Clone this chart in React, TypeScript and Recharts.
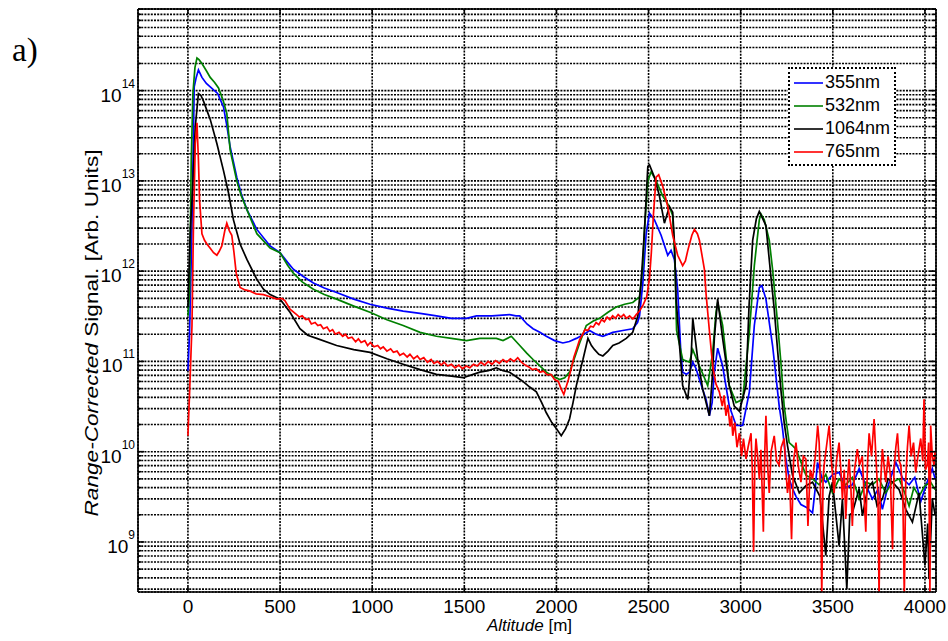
import { LineChart, Line, XAxis, YAxis, CartesianGrid, ReferenceLine, Legend } from "recharts";

// plot frame in page pixels
const PLOT_LEFT = 138;
const PLOT_RIGHT = 936;
const PLOT_TOP = 9;
const PLOT_BOTTOM = 592;

const X_MIN = -271;
const X_MAX = 4060;
const Y_MIN = 2.79e8;
const Y_MAX = 8.02e14;

const X_TICKS = [0, 500, 1000, 1500, 2000, 2500, 3000, 3500, 4000];
const DECADES = [8, 9, 10, 11, 12, 13, 14];
const MANTISSAS = [1, 2, 3, 4, 5, 6, 7, 8, 9];
const Y_TICKS = DECADES.flatMap((e) => MANTISSAS.map((m) => m * 10 ** e)).filter(
  (v) => v >= Y_MIN && v <= Y_MAX
);

const FONT = '"Liberation Sans", Arial, sans-serif';

// [altitude m, range-corrected signal]
const S355: [number, number][] = [
  [0, 7.9e10], [9, 2.1e11], [22, 3.2e12], [34, 1.1e14], [45, 1.4e14], [57, 1.7e14], [76, 1.4e14],
  [100, 1.2e14], [121, 1.1e14], [161, 9.3e13], [193, 6.6e13], [212, 4.0e13], [229, 2.4e13], [265, 1.1e13],
  [290, 7.1e12], [320, 4.8e12], [374, 2.9e12], [446, 1.9e12], [500, 1.6e12], [540, 1.26e12], [572, 1.05e12],
  [620, 8.9e11], [681, 7.4e11], [740, 6.5e11], [807, 5.8e11], [900, 4.9e11], [988, 4.3e11], [1080, 3.9e11],
  [1168, 3.6e11], [1260, 3.4e11], [1349, 3.2e11], [1430, 3.0e11], [1512, 3.0e11], [1566, 3.2e11],
  [1650, 3.2e11], [1746, 3.3e11], [1780, 3.2e11], [1801, 3.2e11], [1840, 2.6e11], [1873, 2.3e11],
  [1910, 2.1e11], [1945, 1.9e11], [1990, 1.7e11], [2035, 1.6e11], [2070, 1.66e11], [2108, 1.8e11],
  [2150, 2.0e11], [2180, 2.2e11], [2215, 2.0e11], [2252, 1.9e11], [2306, 2.1e11], [2360, 2.2e11],
  [2414, 2.3e11], [2440, 2.7e11], [2451, 3.2e11], [2469, 7.4e11], [2487, 2.6e12], [2505, 4.4e12],
  [2532, 3.7e12], [2568, 2.5e12], [2604, 1.5e12], [2622, 1.7e12], [2640, 1.35e12], [2658, 6.3e11],
  [2667, 2.7e11], [2675, 1.26e11], [2685, 7.6e10], [2705, 7.2e10], [2722, 7.6e10], [2740, 9.8e10],
  [2758, 8.3e10], [2776, 6.3e10], [2812, 3.8e10], [2830, 2.5e10], [2845, 3.5e10], [2857, 7.6e10],
  [2875, 1.4e11], [2902, 8.9e10], [2938, 3.2e10], [2975, 1.95e10], [3011, 1.95e10], [3047, 4.6e10],
  [3074, 2.5e11], [3101, 6.6e11], [3115, 6.9e11], [3137, 4.9e11], [3155, 2.7e11], [3173, 1.5e11],
  [3191, 6.9e10], [3209, 3.2e10], [3227, 1.8e10], [3245, 8.3e9], [3263, 5.0e9], [3281, 3.9e9],
  [3300, 3.2e9], [3327, 2.6e9], [3360, 2.4e9], [3390, 2.1e9], [3405, 4.0e9], [3417, 7.6e9], [3440, 5.2e9],
  [3462, 4.6e9], [3500, 5.6e9], [3534, 5.9e9], [3570, 4.0e9], [3606, 4.3e9], [3643, 6.5e9], [3680, 4.2e9],
  [3715, 3.0e9], [3745, 3.8e9], [3769, 2.3e9], [3800, 4.2e9], [3842, 7.6e9], [3880, 5.0e9], [3914, 4.3e9],
  [3945, 5.2e9], [3977, 2.8e9], [4010, 4.5e9], [4040, 6.5e9], [4055, 5.0e9],
];

const S532: [number, number][] = [
  [0, 3.2e11], [9, 5.8e11], [18, 1.7e13], [27, 9.3e13], [38, 1.8e14], [49, 2.3e14], [60, 2.2e14],
  [76, 2.0e14], [100, 1.66e14], [121, 1.4e14], [145, 1.23e14], [166, 1.07e14], [190, 7.9e13],
  [211, 5.6e13], [229, 2.2e13], [265, 1.0e13], [290, 6.8e12], [320, 4.8e12], [374, 2.6e12], [446, 1.8e12],
  [500, 1.6e12], [540, 1.17e12], [572, 9.5e11], [620, 7.6e11], [681, 6.3e11], [740, 5.5e11], [807, 4.9e11],
  [900, 4.1e11], [988, 3.5e11], [1080, 2.9e11], [1168, 2.5e11], [1260, 2.1e11], [1349, 1.9e11],
  [1430, 1.8e11], [1512, 1.7e11], [1584, 1.8e11], [1674, 1.8e11], [1710, 1.7e11], [1755, 1.9e11],
  [1801, 1.5e11], [1840, 1.23e11], [1873, 1.05e11], [1910, 8.9e10], [1945, 7.6e10], [1980, 6.9e10],
  [2017, 6.3e10], [2045, 6.6e10], [2071, 7.6e10], [2100, 1.12e11], [2126, 1.6e11], [2162, 2.5e11],
  [2200, 2.8e11], [2234, 3.0e11], [2280, 3.5e11], [2324, 4.0e11], [2370, 4.3e11], [2414, 4.5e11],
  [2451, 5.2e11], [2469, 1.15e12], [2478, 2.9e12], [2496, 1.0e13], [2514, 1.26e13], [2541, 1.0e13],
  [2577, 6.8e12], [2613, 5.2e12], [2631, 4.1e12], [2643, 1.26e12], [2652, 2.2e11], [2685, 1.05e11],
  [2722, 9.8e10], [2740, 1.35e11], [2776, 8.9e10], [2821, 5.4e10], [2848, 1.26e11], [2866, 3.5e11],
  [2875, 4.5e11], [2902, 2.5e11], [2938, 5.4e10], [2975, 3.5e10], [3011, 3.8e10], [3047, 2.1e11],
  [3074, 1.15e12], [3101, 3.7e12], [3110, 4.3e12], [3128, 3.7e12], [3155, 2.2e12], [3173, 1.05e12],
  [3200, 2.7e11], [3218, 9.8e10], [3236, 3.2e10], [3263, 1.26e10], [3281, 1.17e10], [3300, 1.07e10],
  [3354, 5.5e9], [3390, 5.0e9], [3426, 4.3e9], [3462, 5.6e9], [3498, 3.5e9], [3534, 5.0e9], [3570, 4.3e9],
  [3606, 5.2e9], [3643, 3.0e9], [3680, 4.6e9], [3715, 4.3e9], [3750, 5.0e9], [3787, 3.5e9], [3824, 4.6e9],
  [3860, 5.0e9], [3890, 3.5e9], [3914, 2.5e9], [3940, 4.0e9], [3968, 3.2e9], [4000, 4.2e9], [4031, 4.6e9],
  [4055, 3.8e9],
];

const S1064: [number, number][] = [
  [0, 4.0e11], [12, 2.6e12], [25, 7.9e12], [40, 4.0e13], [57, 9.3e13], [70, 8.9e13], [85, 7.6e13],
  [121, 4.8e13], [157, 2.6e13], [193, 1.3e13], [220, 7.4e12], [247, 3.7e12], [283, 2.0e12], [320, 1.35e12],
  [374, 8.1e11], [410, 6.3e11], [446, 5.5e11], [500, 4.9e11], [554, 3.5e11], [608, 2.3e11], [650, 1.95e11],
  [699, 1.8e11], [807, 1.5e11], [900, 1.35e11], [988, 1.26e11], [1080, 1.07e11], [1168, 9.3e10],
  [1260, 8.1e10], [1349, 7.2e10], [1420, 6.9e10], [1493, 6.6e10], [1540, 7.1e10], [1584, 7.6e10],
  [1630, 7.9e10], [1674, 8.5e10], [1710, 7.9e10], [1746, 7.6e10], [1780, 6.8e10], [1818, 6.0e10],
  [1855, 5.2e10], [1891, 4.6e10], [1920, 3.5e10], [1945, 2.7e10], [1975, 2.1e10], [2000, 1.8e10],
  [2026, 1.5e10], [2050, 1.8e10], [2071, 2.3e10], [2090, 3.5e10], [2108, 5.4e10], [2126, 7.6e10],
  [2144, 1.05e11], [2171, 1.8e11], [2190, 1.5e11], [2207, 1.35e11], [2230, 1.2e11], [2252, 1.15e11],
  [2280, 1.3e11], [2306, 1.5e11], [2340, 1.6e11], [2379, 1.8e11], [2414, 2.1e11], [2442, 3.2e11],
  [2460, 7.8e11], [2478, 2.9e12], [2496, 1.45e13], [2505, 1.5e13], [2532, 1.1e13], [2559, 6.8e12],
  [2586, 3.4e12], [2613, 5.2e12], [2631, 4.5e12], [2641, 2.0e12], [2649, 5.2e11], [2665, 1.8e11],
  [2685, 5.4e10], [2713, 3.8e10], [2730, 1.0e11], [2740, 3.0e11], [2767, 1.05e11], [2794, 4.9e10],
  [2830, 2.5e10], [2845, 6.3e10], [2857, 1.8e11], [2875, 4.9e11], [2902, 1.8e11], [2938, 5.4e10],
  [2965, 3.2e10], [2993, 2.8e10], [3029, 5.4e10], [3045, 4.0e11], [3065, 2.2e12], [3085, 3.8e12],
  [3101, 4.6e12], [3137, 3.2e12], [3164, 8.7e11], [3182, 3.8e11], [3200, 1.35e11], [3218, 4.9e10],
  [3236, 2.1e10], [3254, 1.17e10], [3281, 5.5e9], [3318, 3.5e9], [3354, 4.2e9], [3390, 4.6e9],
  [3430, 3.2e9], [3462, 7.1e8], [3480, 3.2e9], [3498, 4.6e9], [3534, 9.1e8], [3552, 3.0e9], [3576, 3.0e8],
  [3592, 2.0e9], [3606, 2.1e9], [3643, 3.9e9], [3661, 1.95e9], [3690, 4.0e9], [3715, 4.6e9], [3740, 2.5e9],
  [3769, 3.0e9], [3800, 5.0e9], [3824, 4.6e9], [3860, 3.8e9], [3896, 2.3e9], [3932, 1.66e9], [3968, 3.5e9],
  [4000, 5.5e8], [4015, 1.6e9], [4022, 3.9e8], [4040, 3.0e9], [4055, 2.0e9],
];

const S765: [number, number][] = [
  [0, 1.5e10], [8, 4.0e10], [22, 2.5e11], [30, 3.2e12], [40, 2.6e13], [49, 4.4e13], [57, 1.7e13],
  [63, 6.2e12], [76, 2.6e12], [90, 2.2e12], [103, 2.0e12], [120, 1.8e12], [139, 1.6e12], [157, 1.5e12],
  [170, 1.66e12], [184, 1.9e12], [200, 2.8e12], [211, 3.4e12], [225, 2.8e12], [238, 2.5e12], [250, 1.6e12],
  [262, 9.5e11], [283, 6.6e11], [310, 6.2e11], [338, 6.0e11], [370, 5.6e11], [410, 5.5e11], [445, 5.2e11],
  [482, 4.9e11], [510, 5.0e11], [527, 4.7e11], [554, 3.8e11], [590, 3.3e11], [605, 3.1e11], [620, 3.2e11],
  [640, 2.9e11], [655, 2.95e11], [670, 2.6e11], [690, 2.7e11], [705, 2.5e11], [720, 2.55e11], [735, 2.3e11],
  [755, 2.4e11], [770, 2.15e11], [785, 2.25e11], [800, 2.0e11], [820, 2.1e11], [840, 1.9e11], [855, 2.0e11],
  [870, 1.8e11], [890, 1.85e11], [910, 1.65e11], [925, 1.78e11], [940, 1.62e11], [960, 1.7e11],
  [975, 1.5e11], [990, 1.62e11], [1010, 1.45e11], [1030, 1.5e11], [1045, 1.38e11], [1060, 1.45e11],
  [1080, 1.3e11], [1100, 1.38e11], [1115, 1.26e11], [1135, 1.3e11], [1150, 1.17e11], [1170, 1.23e11],
  [1190, 1.12e11], [1205, 1.2e11], [1225, 1.07e11], [1245, 1.15e11], [1260, 1.05e11], [1280, 1.1e11],
  [1300, 9.8e10], [1320, 1.05e11], [1335, 9.5e10], [1355, 1.0e11], [1375, 9.1e10], [1390, 9.8e10],
  [1410, 8.9e10], [1430, 9.3e10], [1450, 8.5e10], [1470, 9.1e10], [1490, 8.3e10], [1510, 8.9e10],
  [1530, 8.5e10], [1550, 9.3e10], [1570, 8.9e10], [1590, 9.8e10], [1610, 9.1e10], [1630, 1.0e11],
  [1650, 9.3e10], [1670, 1.02e11], [1690, 9.5e10], [1710, 1.05e11], [1730, 9.8e10], [1750, 1.07e11],
  [1770, 1.0e11], [1790, 1.1e11], [1810, 9.8e10], [1830, 9.1e10], [1850, 8.7e10], [1870, 8.1e10],
  [1890, 8.3e10], [1910, 7.6e10], [1930, 7.8e10], [1950, 7.1e10], [1970, 7.2e10], [1990, 6.3e10],
  [2010, 6.0e10], [2025, 5.0e10], [2040, 4.3e10], [2050, 5.0e10], [2065, 6.3e10], [2080, 8.3e10],
  [2095, 1.12e11], [2110, 1.38e11], [2126, 1.74e11], [2140, 1.95e11], [2155, 2.25e11], [2170, 2.2e11],
  [2185, 2.45e11], [2200, 2.4e11], [2215, 2.7e11], [2230, 2.55e11], [2245, 2.9e11], [2260, 2.75e11],
  [2275, 3.1e11], [2290, 2.9e11], [2305, 3.2e11], [2320, 3.0e11], [2335, 3.3e11], [2350, 3.1e11],
  [2365, 3.3e11], [2380, 3.0e11], [2397, 3.2e11], [2415, 2.95e11], [2433, 3.3e11], [2450, 3.6e11],
  [2470, 4.2e11], [2490, 5.2e11], [2505, 8.3e11], [2515, 1.6e12], [2527, 4.4e12], [2541, 1.1e13],
  [2555, 1.17e13], [2577, 8.7e12], [2604, 5.2e12], [2631, 2.5e12], [2658, 1.5e12], [2685, 1.15e12],
  [2700, 1.3e12], [2713, 1.7e12], [2735, 2.5e12], [2749, 2.9e12], [2765, 2.6e12], [2776, 2.2e12],
  [2803, 1.05e12], [2812, 5.6e11], [2830, 2.2e11], [2848, 8.9e10], [2866, 5.6e10], [2884, 4.6e10],
  [2900, 3.2e10], [2910, 4.2e10], [2920, 2.5e10], [2930, 3.3e10], [2942, 1.9e10], [2950, 2.5e10],
  [2957, 1.5e10], [2968, 2.1e10], [2980, 1.12e10], [2993, 1.6e10], [3005, 8.9e9], [3015, 1.4e10],
  [3029, 8.3e9], [3040, 1.12e10], [3056, 1.6e10], [3063, 6.3e9], [3070, 7.8e8], [3077, 7.9e9],
  [3083, 1.4e10], [3092, 8.9e9], [3101, 5.0e9], [3110, 1.05e10], [3123, 1.3e9], [3130, 8.9e9],
  [3137, 2.5e10], [3146, 7.1e9], [3155, 3.5e9], [3165, 1.0e10], [3182, 1.5e10], [3195, 7.9e9],
  [3209, 7.1e9], [3220, 1.12e10], [3236, 1.4e10], [3245, 6.3e9], [3254, 3.5e9], [3265, 5.6e9],
  [3276, 1.07e9], [3287, 7.9e9], [3300, 1.26e10], [3312, 7.1e9], [3327, 4.6e9], [3340, 8.9e9],
  [3354, 8.3e9], [3365, 1.5e9], [3377, 6.3e9], [3390, 5.0e9], [3405, 8.9e9], [3418, 1.95e10],
  [3426, 1.26e10], [3433, 4.0e9], [3440, 2.5e8], [3447, 5.0e9], [3453, 7.1e9], [3465, 1.12e10],
  [3480, 1.95e10], [3492, 7.9e9], [3507, 3.5e9], [3520, 7.9e9], [3534, 1.26e10], [3545, 5.6e9],
  [3552, 3.0e9], [3562, 6.3e9], [3570, 1.8e9], [3580, 5.0e9], [3588, 8.3e9], [3598, 4.0e9], [3606, 1.5e9],
  [3618, 6.3e9], [3633, 1.07e10], [3645, 7.1e9], [3660, 8.9e9], [3670, 3.2e9], [3679, 1.3e9], [3688, 7.1e9],
  [3697, 1.6e10], [3710, 8.9e9], [3724, 2.3e10], [3735, 7.9e9], [3745, 3.2e9], [3751, 2.5e8], [3758, 4.0e9],
  [3769, 1.07e10], [3778, 7.1e9], [3787, 4.6e9], [3800, 8.9e9], [3812, 5.6e9], [3824, 8.3e8], [3832, 6.3e9],
  [3842, 1.12e10], [3851, 1.6e10], [3860, 7.9e9], [3869, 7.1e9], [3880, 3.2e9], [3888, 2.5e8], [3896, 5.0e9],
  [3905, 1.12e10], [3914, 1.95e10], [3925, 8.9e9], [3938, 1.26e10], [3950, 5.9e9], [3962, 8.9e9],
  [3977, 1.4e10], [3988, 7.9e9], [3995, 3.8e10], [4003, 6.3e9], [4013, 7.1e9], [4020, 1.26e10],
  [4027, 2.5e8], [4031, 1.95e10], [4040, 8.9e9], [4049, 7.1e9], [4055, 1.0e10],
];

const SERIES = [
  { name: "355nm", color: "#0000ff", points: S355 },
  { name: "532nm", color: "#008000", points: S532 },
  { name: "1064nm", color: "#000000", points: S1064 },
  { name: "765nm", color: "#ff0000", points: S765 },
];

function YTick(props: any) {
  const { y, payload } = props;
  const lg = Math.log10(payload.value);
  const major = Math.abs(lg - Math.round(lg)) < 1e-6;
  const len = major ? 6 : 3;
  return (
    <g>
      <line x1={PLOT_LEFT} x2={PLOT_LEFT + len} y1={y} y2={y} stroke="#000" strokeWidth={1.6} />
      <line x1={PLOT_RIGHT - len} x2={PLOT_RIGHT} y1={y} y2={y} stroke="#000" strokeWidth={1.6} />
      {major && (
        <text x={135} y={y + 11} textAnchor="end" fontSize={19} fontFamily={FONT} fill="#000">
          10
          <tspan dy={-14} fontSize={12}>
            {Math.round(lg)}
          </tspan>
        </text>
      )}
    </g>
  );
}

function XTick(props: any) {
  const { x, payload } = props;
  return (
    <g>
      <line x1={x} x2={x} y1={PLOT_BOTTOM} y2={PLOT_BOTTOM - 5} stroke="#000" strokeWidth={1.6} />
      <line x1={x} x2={x} y1={PLOT_TOP} y2={PLOT_TOP + 5} stroke="#000" strokeWidth={1.6} />
      <text x={x} y={613} textAnchor="middle" fontSize={19} fontFamily={FONT} fill="#000">
        {payload.value}
      </text>
    </g>
  );
}

function LegendBox() {
  return (
    <div
      style={{
        width: 108,
        height: 99,
        boxSizing: "border-box",
        border: "2px dotted #000",
        background: "#fff",
        paddingTop: 2,
        fontFamily: FONT,
        fontSize: 18,
      }}
    >
      {SERIES.map((s) => (
        <div key={s.name} style={{ display: "flex", alignItems: "center", height: 23, lineHeight: "23px" }}>
          <svg width={35} height={23} style={{ flex: "none" }}>
            <line x1={4} x2={33} y1={12} y2={12} stroke={s.color} strokeWidth={1.6} />
          </svg>
          <span style={{ color: "#000" }}>{s.name}</span>
        </div>
      ))}
    </div>
  );
}

export default function App() {
  return (
    <div style={{ position: "absolute", left: 0, top: 0, width: 948, height: 641, background: "#fff" }}>
      <LineChart width={948} height={641} margin={{ top: PLOT_TOP, right: 948 - PLOT_RIGHT, bottom: 0, left: 0 }}>
        <CartesianGrid stroke="#000" strokeWidth={1.6} strokeDasharray="2 1.2" />
        <XAxis
          type="number"
          dataKey="alt"
          domain={[X_MIN, X_MAX]}
          ticks={X_TICKS}
          height={641 - PLOT_BOTTOM}
          tick={<XTick />}
          tickLine={false}
          axisLine={{ stroke: "#000", strokeWidth: 1.6 }}
          allowDataOverflow
        />
        <YAxis
          type="number"
          dataKey="v"
          scale="log"
          domain={[Y_MIN, Y_MAX]}
          ticks={Y_TICKS}
          width={PLOT_LEFT}
          tick={<YTick />}
          tickLine={false}
          axisLine={{ stroke: "#000", strokeWidth: 1.6 }}
          interval={0}
          allowDataOverflow
        />
        <ReferenceLine x={X_MAX} stroke="#000" strokeWidth={1.6} />
        <ReferenceLine y={Y_MAX} stroke="#000" strokeWidth={1.6} />
        {SERIES.map((s) => (
          <Line
            key={s.name}
            name={s.name}
            data={s.points.map(([alt, v]) => ({ alt, v }))}
            dataKey="v"
            type="linear"
            stroke={s.color}
            strokeWidth={1.7}
            dot={false}
            activeDot={false}
            isAnimationActive={false}
          />
        ))}
        <Legend
          layout="vertical"
          align="center"
          verticalAlign="middle"
          wrapperStyle={{ position: "absolute", left: 788, top: 67, width: 108, height: 99 }}
          content={() => <LegendBox />}
        />
      </LineChart>
      <svg
        width={948}
        height={641}
        style={{ position: "absolute", left: 0, top: 0, pointerEvents: "none" }}
      >
        <text x={12} y={61} fontSize={33} fontFamily='"Liberation Serif", "Times New Roman", serif' fill="#000">
          a)
        </text>
        <text
          x={98}
          y={333}
          transform="rotate(-90 98 333)"
          textAnchor="middle"
          fontSize={18}
          fontFamily={FONT}
          fill="#000"
          textLength={367}
          lengthAdjust="spacingAndGlyphs"
        >
          <tspan fontStyle="italic">Range-Corrected</tspan> Signal. [Arb. Units]
        </text>
        <text x={487} y={631} fontSize={17} fontFamily={FONT} fill="#000">
          <tspan fontStyle="italic">Altitude</tspan> [m]
        </text>
      </svg>
    </div>
  );
}
